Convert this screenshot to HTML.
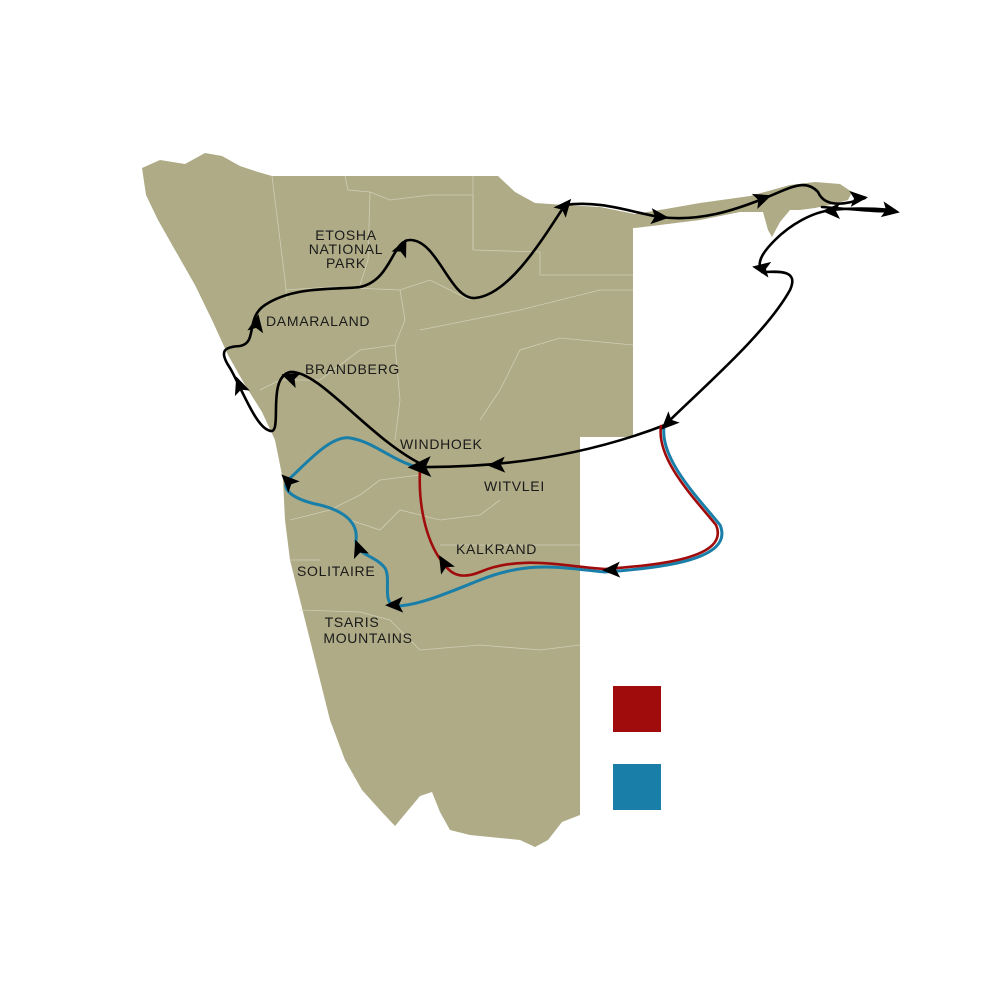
<!DOCTYPE html>
<html><head><meta charset="utf-8"><style>
html,body{margin:0;padding:0;background:#fff}
svg{display:block}
text{font-family:"Liberation Sans",sans-serif;font-size:14px;fill:#1a1a1a;letter-spacing:0.7px}
</style></head><body>
<svg width="1000" height="1000" viewBox="0 0 1000 1000">
<defs>
<polygon id="ar" points="8,0 -10,-8 -6,0 -10,8" fill="#000"/>
</defs>
<path fill="#aeab86" d="M142,168 L160,160 L185,164 L205,153 L222,156 L240,166 L258,172 L272,176 L498,176 L515,192 L535,203 L565,205 L600,207 L635,214 L660,210 L700,203 L750,196 L790,185 L815,182 L840,184 L852,192 L848,200 L830,205 L815,208 L800,210 L790,210 L780,222 L772,237 L768,230 L763,212 L740,212 L700,220 L660,225 L635,228 L633,228 L633,437 L580,437 L580,815 L562,822 L548,840 L535,847 L520,840 L500,838 L470,835 L450,830 L440,812 L432,792 L420,796 L410,808 L395,826 L380,810 L362,790 L345,760 L330,720 L320,680 L310,640 L300,600 L290,560 L285,520 L283,480 L275,440 L262,412 L245,385 L228,355 L212,320 L195,285 L175,250 L158,220 L146,195 Z"/>
<g stroke="#d8d6c0" stroke-width="0.8" fill="none" opacity="0.8">
<path d="M272,176 L275,200 L280,240 L285,280 L287,300"/>
<path d="M345,176 L348,190 L370,192 L390,200 L430,195 L473,195 L473,250 L540,252 L540,275 L633,275"/>
<path d="M473,176 L473,250"/>
<path d="M370,192 L368,260 L360,285"/>
<path d="M285,290 L330,287 L400,290 L430,280 L460,295 L470,300"/>
<path d="M400,290 L405,320 L395,345 L360,350 L340,365 L320,380 L280,380 L260,390"/>
<path d="M420,330 L470,320 L520,310 L560,300 L600,290 L633,290"/>
<path d="M395,345 L400,400 L395,440"/>
<path d="M500,390 L520,350 L560,338 L633,345"/>
<path d="M480,420 L500,390"/>
<path d="M290,520 L330,510 L360,495 L380,480 L420,475"/>
<path d="M350,520 L380,530 L400,510 L440,520 L480,515 L500,500"/>
<path d="M440,545 L580,545"/>
<path d="M300,610 L360,612 L390,620 L420,650 L480,645 L540,650 L580,645"/>
<path d="M290,560 L320,560"/>
</g>
<g fill="none" stroke-width="2.6" stroke-linecap="round">
<path stroke="#000" d="M425,466 C370,440 320,370 290,372 C265,378 285,440 268,430 C255,425 240,385 230,368 C218,350 225,347 240,346 C258,343 245,318 265,305 C295,285 340,290 360,287 C392,280 392,240 410,240 C438,240 450,300 475,298 C510,295 545,235 565,205 C600,200 630,212 660,217 C700,222 735,210 765,198 C790,188 805,178 818,192 C825,208 845,205 865,198 M822,207 C860,210 880,212 895,211"/>
<path stroke="#000" d="M893,210 C870,208 850,208 832,210 C812,212 790,225 775,240 C765,250 755,262 762,272 C775,272 800,268 790,290 C765,335 700,390 665,425 C600,450 520,468 420,467"/>
<path stroke="#1a7fa8" stroke-width="3" d="M664,427 C660,460 700,500 720,525 C735,560 660,568 605,572 C560,568 530,560 480,580 C450,592 420,605 398,606 C380,606 392,580 385,568 C375,555 355,555 356,540 C358,525 348,512 320,505 C295,500 280,490 288,480 C305,465 330,435 350,438 C375,442 390,460 420,468"/>
<path stroke="#a00c0c" stroke-width="2.6" d="M661,426 C656,460 696,500 716,525 C730,558 660,565 605,569 C560,566 520,555 480,572 C455,582 448,570 438,556 C428,540 418,510 420,470"/>
</g>
<use href="#ar" transform="translate(403,246) rotate(-65)"/>
<use href="#ar" transform="translate(257,322) rotate(-80)"/>
<use href="#ar" transform="translate(239,384) rotate(-110)"/>
<use href="#ar" transform="translate(289,377) rotate(-160)"/>
<use href="#ar" transform="translate(566,205) rotate(-50)"/>
<use href="#ar" transform="translate(661,217) rotate(5)"/>
<use href="#ar" transform="translate(764,198) rotate(-20)"/>
<use href="#ar" transform="translate(860,198) rotate(-5)"/>
<use href="#ar" transform="translate(892,211) rotate(10)"/>
<use href="#ar" transform="translate(830,211) rotate(180)"/>
<use href="#ar" transform="translate(760,268) rotate(-170)"/>
<use href="#ar" transform="translate(667,424) rotate(135)"/>
<use href="#ar" transform="translate(495,465) rotate(178)"/>
<use href="#ar" transform="translate(418,467) rotate(178) scale(1.3)"/>
<use href="#ar" transform="translate(443,562) rotate(-120)"/>
<use href="#ar" transform="translate(610,570) rotate(178)"/>
<use href="#ar" transform="translate(358,547) rotate(-110)"/>
<use href="#ar" transform="translate(287,480) rotate(-135)"/>
<use href="#ar" transform="translate(393,605) rotate(178)"/>
<text x="346" y="240" text-anchor="middle">ETOSHA</text>
<text x="346" y="254" text-anchor="middle">NATIONAL</text>
<text x="346" y="268" text-anchor="middle">PARK</text>
<text x="266" y="326">DAMARALAND</text>
<text x="305" y="374">BRANDBERG</text>
<text x="400" y="449">WINDHOEK</text>
<text x="484" y="491">WITVLEI</text>
<text x="456" y="554">KALKRAND</text>
<text x="297" y="576">SOLITAIRE</text>
<text x="352" y="627" text-anchor="middle">TSARIS</text>
<text x="368" y="643" text-anchor="middle">MOUNTAINS</text>
<rect x="613" y="686" width="48" height="46" fill="#a00c0c"/>
<rect x="613" y="764" width="48" height="46" fill="#1a7fa8"/>
</svg>
</body></html>
